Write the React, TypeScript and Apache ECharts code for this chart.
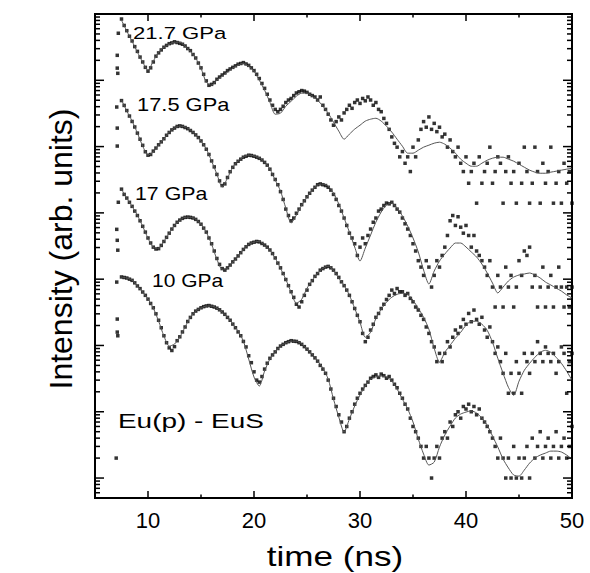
import React, { useEffect, useRef } from "react";
import * as echarts from "echarts";

const FONT = '"Liberation Sans", Arial, Helvetica, sans-serif';

// ---- axes ----
const X_MIN = 5;
const X_MAX = 50;
const X_STEP = 5;
const xMajorTicks = [10, 20, 30, 40, 50];
const xMinorTicks = [15, 25, 35, 45];
const xTickLabels = ["10", "20", "30", "40", "50"];
const Y_MIN = 0.5;
const Y_MAX = 1e7;
const yMajorTicks = [1, 10, 100, 1000, 1e4, 1e5, 1e6, 1e7];
const yMinorMantissas = [2, 3, 4, 5, 6, 7, 8, 9];
const yMinorDecades = [0.1, 1, 10, 100, 1000, 1e4, 1e5, 1e6];

// ---- texts ----
const xTitle = "time (ns)";
const yTitle = "Intensity (arb. units)";
const curveLabels = ["21.7 GPa", "17.5 GPa", "17 GPa", "10 GPa"];
const sampleLabel = "Eu(p) - EuS";

// ---- time sampling of the arrays below (ns) ----
const FIT_T0 = 7.5;
const FIT_DT = 0.5;
const DOT_T0 = 7.5;
const DOT_DT = 0.25;

// vertical offset factors of the four spectra
const offsetA = 14000;
const offsetB = 380;
const offsetC = 19;
const offsetD = 1;

// ---- 21.7 GPa (counts) ----
const fitA = [
  576, 393, 277, 190, 134, 101, 139, 190, 225, 250,
  268, 268, 233, 196, 154, 109, 66.8, 60.2, 71.6, 82.4,
  94.6, 109, 121, 129, 116, 97.9, 71.6, 50.6, 33.4, 22.0,
  22.8, 29.0, 34.5, 41.1, 45.6, 45.6, 41.1, 35.8, 29.0, 22.8,
  16.7, 12.2, 9.23, 11.0, 13.1, 15.0, 17.3, 18.5, 19.1, 17.3,
  14.5, 11.8, 9.23, 7.24, 5.68, 5.68, 6.3, 7.0, 7.5, 8.04,
  8.32, 7.76, 6.76, 5.68, 4.61, 4.01, 3.61, 3.61, 4.01, 4.45,
  4.77, 4.94, 4.94, 4.61, 4.3, 3.87, 3.49, 3.15, 2.94, 2.83,
  2.83, 2.94, 3.04, 3.15, 3.26, 3.37,
];
const dotsA = [
  600, 480, 400, 330, 280, 230, 195, 160, 135, 112,
  98, 110, 135, 165, 185, 205, 225, 240, 255, 262,
  272, 265, 258, 250, 235, 215, 200, 175, 155, 130,
  110, 88, 70, 60, 62, 66, 74, 80, 86, 92,
  100, 106, 112, 118, 125, 128, 132, 126, 120, 110,
  100, 88, 76, 64, 54, 44, 36, 30, 26, 24,
  26, 29, 33, 36, 38, 42, 46, 48, 50, 49,
  47, 44, 42, 40, 36, 40, 30, 26, 22, 18,
  15, 17, 20, 18, 23, 26, 30, 27, 33, 36,
  32, 38, 35, 40, 36, 30, 33, 26, 24, 19,
  16, 13, 10, 8, 7, 5, 6, 4, 5, 3,
  7, 5, 9, 13, 17, 14, 20, 13, 16, 12,
  14, 10, 11, 7, 9, 6, 5, 7, 4, 3,
  5, 2, 3, 4, 1, 5, 2, 3, 4, 7,
  2, 3, 5, 4, 1, 3, 5, 2, 3, 1,
  4, 2, 7, 3, 1, 2, 7, 3, 1, 4,
  2, 3, 7, 1, 2, 3, 1, 4, 2, 3,
  1,
];
const earlyA = [[7.1, 170], [7.1, 109], [7.15, 91], [7.2, 366]];

// ---- 17.5 GPa (counts) ----
const fitB = [
  1325, 904, 639, 421, 268, 196, 218, 277, 342, 436,
  501, 537, 519, 468, 393, 319, 242, 159, 101, 64.6,
  88.2, 129, 159, 183, 196, 190, 177, 154, 121, 82.4,
  56.2, 31.1, 18.5, 24.4, 34.5, 45.6, 58.2, 69.2, 71.6, 66.8,
  52.4, 35.8, 22.0, 13.5, 8.04, 4.94, 7.76, 12.2, 19.1, 27.1,
  34.5, 37.0, 31.1, 23.6, 16.7, 11.0, 6.76, 3.61, 2.22, 3.49,
  4.94, 6.3, 7.76, 9.23, 9.23, 8.04, 6.76, 5.68, 4.45, 3.26,
  2.3, 1.63, 2.0, 2.47, 2.83, 3.04, 3.15, 3.26, 3.04, 2.74,
  2.38, 2.15, 1.93, 1.74, 1.52, 1.37,
];
const dotsB = [
  1300, 1100, 920, 760, 630, 520, 420, 340, 275, 220,
  195, 200, 225, 250, 280, 310, 345, 390, 430, 470,
  500, 530, 540, 530, 510, 490, 460, 430, 395, 360,
  320, 280, 240, 200, 160, 130, 100, 80, 68, 72,
  90, 110, 128, 145, 158, 170, 182, 188, 195, 193,
  188, 182, 175, 165, 152, 138, 120, 100, 84, 70,
  55, 42, 30, 24, 20, 22, 26, 30, 35, 40,
  46, 52, 58, 64, 70, 72, 70, 68, 64, 58,
  50, 42, 34, 28, 22, 17, 13, 11, 9, 6,
  8, 11, 9, 12, 15, 19, 22, 28, 30, 34,
  37, 36, 38, 34, 30, 27, 22, 18, 15, 12,
  9, 7, 5, 4, 3, 5, 4, 2, 3, 5,
  4, 6, 8, 12, 20, 24, 17, 23, 16, 13,
  17, 12, 8, 12, 7, 6, 5, 4, 3, 5,
  2, 1, 3, 2, 1, 4, 2, 3, 1, 2,
  5, 3, 7, 6, 8, 2, 3, 1, 2, 4,
  1, 2, 3, 1, 2, 4, 2, 1, 2, 1,
  2,
];
const earlyB = [[7.05, 1040], [7.1, 500], [7.1, 268]];

// ---- 17 GPa (counts) ----
const fitC = [
  1194, 873, 661, 484, 330, 218, 159, 154, 196, 259,
  342, 406, 452, 452, 421, 354, 268, 177, 105, 74.1,
  76.7, 94.6, 116, 149, 177, 190, 196, 171, 144, 109,
  76.7, 52.4, 33.4, 22.8, 26.2, 38.4, 50.6, 64.6, 76.7, 82.4,
  71.6, 54.3, 42.6, 30.1, 19.1, 11.8, 7.0, 8.32, 13.5, 18.5,
  23.6, 28.1, 31.1, 32.2, 31.1, 25.3, 19.1, 14.0, 9.23, 4.77,
  2.94, 4.15, 5.3, 6.76, 8.32, 10.6, 12.2, 12.2, 11.0, 8.91,
  5.88, 3.37, 2.0, 1.23, 0.93, 1.52, 2.22, 2.83, 3.49, 4.15,
  4.45, 4.15, 3.49, 2.83, 2.15, 1.57,
];
const dotsC = [
  1200, 1000, 880, 760, 660, 560, 480, 400, 330, 270,
  220, 185, 160, 150, 152, 170, 195, 225, 260, 300,
  340, 380, 410, 435, 450, 455, 450, 440, 420, 390,
  355, 310, 270, 220, 180, 140, 108, 88, 76, 72,
  78, 86, 96, 106, 118, 132, 148, 162, 176, 185,
  190, 195, 192, 182, 172, 160, 145, 128, 110, 92,
  78, 64, 52, 42, 34, 28, 22, 20, 24, 30,
  36, 44, 50, 58, 64, 72, 76, 80, 82, 78,
  72, 64, 56, 48, 42, 36, 30, 24, 19, 15,
  12, 8, 6, 7, 9, 11, 14, 16, 19, 22,
  26, 30, 36, 32, 38, 34, 34, 30, 32, 27,
  24, 20, 18, 15, 13, 10, 8, 6, 5, 3,
  4, 3, 4, 6, 5, 7, 9, 8, 10, 13,
  11, 16, 12, 18, 13, 11, 14, 9, 7, 10,
  6, 4, 5, 3, 2, 4, 1, 2, 1, 3,
  2, 1, 4, 3, 2, 4, 3, 6, 4, 3,
  5, 4, 3, 4, 2, 3, 5, 4, 1, 3,
  4,
];
const earlyC = [[7.05, 297], [7.1, 203], [7.15, 144], [7.2, 761]];

// ---- 10 GPa (counts) ----
const fitD = [
  1076, 1040, 969, 787, 639, 501, 366, 233, 139, 97.9,
  105, 134, 190, 268, 330, 366, 393, 393, 366, 319,
  268, 210, 165, 116, 62.4, 33.4, 24.4, 41.1, 62.4, 79.5,
  97.9, 109, 116, 116, 105, 88.2, 74.1, 58.2, 45.6, 31.1,
  15.5, 8.32, 4.94, 7.76, 12.2, 17.9, 24.4, 31.1, 33.4, 34.5,
  33.4, 29.0, 22.0, 15.5, 11.0, 7.0, 3.87, 2.3, 1.57, 1.74,
  2.94, 4.45, 6.09, 8.04, 9.23, 9.89, 10.3, 9.56, 8.04, 6.3,
  4.3, 2.94, 1.93, 1.42, 1.11, 1.07, 1.32, 1.68, 2.0, 2.22,
  2.38, 2.55, 2.55, 2.47, 2.22, 1.93,
];
const dotsD = [
  1080, 1060, 1040, 1000, 960, 880, 790, 720, 640, 570,
  500, 430, 370, 300, 240, 185, 140, 110, 92, 84,
  96, 118, 135, 160, 190, 230, 265, 300, 330, 350,
  370, 385, 395, 400, 390, 380, 365, 345, 320, 295,
  265, 240, 210, 185, 160, 140, 115, 95, 70, 55,
  40, 30, 28, 34, 44, 54, 64, 72, 80, 90,
  98, 104, 110, 114, 118, 116, 115, 110, 104, 96,
  88, 80, 72, 65, 58, 50, 44, 38, 30, 22,
  16, 12, 9, 7, 5, 6, 8, 10, 13, 16,
  19, 22, 25, 28, 32, 34, 36, 33, 37, 35,
  32, 34, 30, 26, 23, 19, 16, 13, 11, 8,
  6, 5, 4, 3, 2, 3, 2, 1, 2, 3,
  2, 4, 5, 4, 7, 6, 9, 10, 8, 12,
  11, 13, 10, 12, 9, 11, 8, 7, 6, 5,
  4, 3, 2, 4, 2, 1, 2, 1, 3, 1,
  2, 1, 2, 3, 1, 4, 2, 3, 5, 2,
  3, 4, 2, 3, 5, 2, 3, 4, 2, 3,
  6,
];
const earlyD = [[7.05, 904], [7.1, 250], [7.1, 159], [7.15, 140], [7.0, 2]];

const curves = [
  { fit: fitA, dots: dotsA, early: earlyA, k: offsetA },
  { fit: fitB, dots: dotsB, early: earlyB, k: offsetB },
  { fit: fitC, dots: dotsC, early: earlyC, k: offsetC },
  { fit: fitD, dots: dotsD, early: earlyD, k: offsetD },
];

function buildOption() {
  const series: any[] = [];
  curves.forEach((c, ci) => {
    const dots = c.dots.map((v, i) => [DOT_T0 + i * DOT_DT, v * c.k]);
    const early = c.early.map((p) => [p[0], p[1] * c.k]);
    series.push({
      type: "scatter",
      name: "data" + ci,
      data: early.concat(dots),
      symbol: "rect",
      symbolSize: 3.5,
      itemStyle: { color: "#000" },
      silent: true,
      z: 2,
    });
    series.push({
      type: "line",
      name: "fit" + ci,
      data: c.fit.map((v, i) => [FIT_T0 + i * FIT_DT, v * c.k]),
      showSymbol: false,
      symbol: "none",
      smooth: 0.25,
      lineStyle: { color: "#555", width: 1 },
      silent: true,
      z: 3,
    });
  });

  // frame ticks (inward), drawn through the axes' scales
  const tickData: number[][] = [];
  xMajorTicks.forEach((v) => {
    tickData.push([v, Y_MIN, 0, -7]);
    tickData.push([v, Y_MAX, 0, 7]);
  });
  xMinorTicks.forEach((v) => {
    tickData.push([v, Y_MIN, 0, -3.5]);
    tickData.push([v, Y_MAX, 0, 3.5]);
  });
  yMajorTicks.forEach((v) => {
    tickData.push([X_MIN, v, 9, 0]);
    tickData.push([X_MAX, v, -9, 0]);
  });
  yMinorDecades.forEach((d) => {
    yMinorMantissas.forEach((m) => {
      const v = d * m;
      if (v >= Y_MIN && v <= Y_MAX) {
        tickData.push([X_MIN, v, 5, 0]);
        tickData.push([X_MAX, v, -5, 0]);
      }
    });
  });
  series.push({
    type: "custom",
    name: "ticks",
    data: tickData,
    clip: false,
    silent: true,
    z: 5,
    renderItem: (params: any, api: any) => {
      const p = api.coord([api.value(0), api.value(1)]);
      const dx = api.value(2);
      const dy = api.value(3);
      return {
        type: "line",
        shape: { x1: p[0], y1: p[1], x2: p[0] + dx, y2: p[1] + dy },
        style: { stroke: "#000", lineWidth: 1.5 },
      };
    },
  });

  const txt = (text: string, x: number, y: number, size: number, sx: number, align: string, rot = 0) => ({
    type: "text",
    x,
    y,
    rotation: rot,
    scaleX: sx,
    silent: true,
    style: {
      text,
      fill: "#000",
      fontSize: size,
      fontFamily: FONT,
      align,
      verticalAlign: "middle",
      textAlign: align,
      textVerticalAlign: "middle",
    },
  });

  return {
    animation: false,
    backgroundColor: "#fff",
    grid: {
      left: 95,
      top: 14,
      right: 18,
      bottom: 75,
      show: true,
      borderColor: "#000",
      borderWidth: 2,
      backgroundColor: "transparent",
    },
    xAxis: {
      type: "value",
      min: X_MIN,
      max: X_MAX,
      interval: X_STEP,
      axisLine: { show: false },
      axisTick: { show: false },
      splitLine: { show: false },
      axisLabel: {
        color: "#000",
        fontSize: 22,
        fontFamily: FONT,
        margin: 11,
        formatter: (v: number) => {
          const i = xMajorTicks.indexOf(v);
          return i >= 0 ? xTickLabels[i] : "";
        },
      },
    },
    yAxis: {
      type: "log",
      logBase: 10,
      min: Y_MIN,
      max: Y_MAX,
      axisLine: { show: false },
      axisTick: { show: false },
      splitLine: { show: false },
      minorTick: { show: false },
      axisLabel: { show: false },
    },
    graphic: [
      txt(yTitle, 60.5, 249, 32, 1, "center", Math.PI / 2),
      txt(xTitle, 335, 557, 27, 1.3, "center"),
      txt(curveLabels[0], 133, 32.5, 17, 1.3, "left"),
      txt(curveLabels[1], 137, 105, 17.5, 1.25, "left"),
      txt(curveLabels[2], 135, 193.5, 17.5, 1.22, "left"),
      txt(curveLabels[3], 152, 281.5, 17.5, 1.2, "left"),
      txt(sampleLabel, 118, 421, 21, 1.33, "left"),
    ],
    series,
  };
}

export default function App() {
  const ref = useRef<HTMLDivElement>(null);
  useEffect(() => {
    if (!ref.current) return;
    const chart = echarts.init(ref.current, undefined, { renderer: "svg" });
    chart.setOption(buildOption() as any);
    return () => chart.dispose();
  }, []);
  return (
    <div
      ref={ref}
      style={{ position: "absolute", left: 0, top: 0, width: 590, height: 573, background: "#fff" }}
    />
  );
}
